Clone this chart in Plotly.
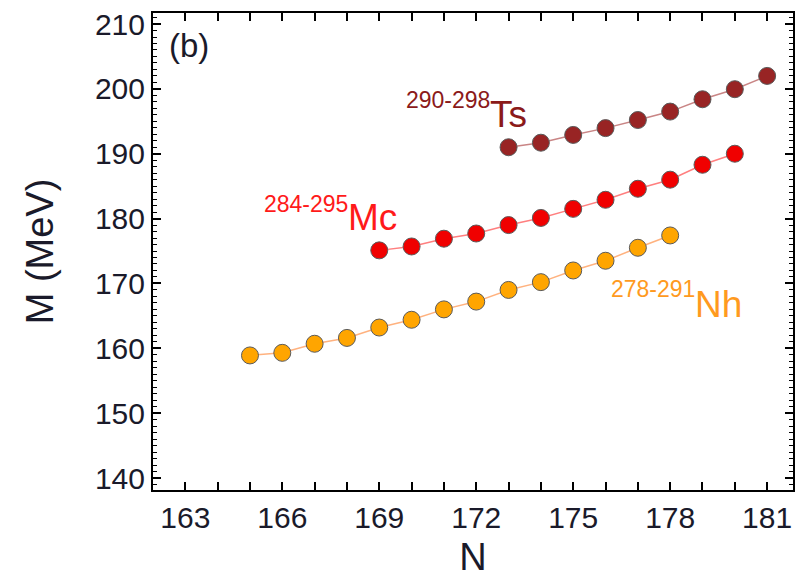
import plotly.graph_objects as go

# Neutron numbers and masses (MeV) for the three isotopic chains
n_nh = [165, 166, 167, 168, 169, 170, 171, 172, 173, 174, 175, 176, 177, 178]
m_nh = [158.9, 159.3, 160.7, 161.6, 163.2, 164.4, 166.0, 167.2, 169.0, 170.2, 172.0, 173.5, 175.5, 177.4]

n_mc = [169, 170, 171, 172, 173, 174, 175, 176, 177, 178, 179, 180]
m_mc = [175.1, 175.7, 176.9, 177.7, 179.0, 180.1, 181.5, 182.9, 184.6, 186.0, 188.3, 190.0]

n_ts = [173, 174, 175, 176, 177, 178, 179, 180, 181]
m_ts = [191.0, 191.7, 192.9, 193.95, 195.2, 196.5, 198.4, 199.95, 202.0]

x_ticks = [163, 166, 169, 172, 175, 178, 181]
y_ticks = [140, 150, 160, 170, 180, 190, 200, 210]

series = [
    (n_nh, m_nh, "#FFA500", "#FFB27F", "Nh"),
    (n_mc, m_mc, "#F00000", "#FF7F7F", "Mc"),
    (n_ts, m_ts, "#982424", "#C98585", "Ts"),
]

fig = go.Figure()
for xs, ys, mcol, lcol, name in series:
    fig.add_trace(go.Scatter(
        x=xs, y=ys, mode="lines+markers", name=name,
        line=dict(color=lcol, width=1.5),
        marker=dict(size=17, color=mcol, line=dict(color="#5a5a5a", width=1)),
        showlegend=False,
    ))

label_font = "Liberation Sans, Arial"

# Isotope labels: mass range as a superscript, element symbol beside it
labels = [
    ("290-298", "Ts", 172.43, 198.3, 196.0, "#8B1A1A"),
    ("284-295", "Mc", 168.02, 182.3, 180.15, "#FF1A1A"),
    ("278-291", "Nh", 178.76, 169.1, 166.8, "#FF9A1E"),
]
for sup, sym, xa, ysup, ysym, col in labels:
    fig.add_annotation(x=xa, y=ysup, text=sup, showarrow=False,
                       xanchor="right", yanchor="middle", xshift=2,
                       font=dict(family=label_font, size=23, color=col))
    fig.add_annotation(x=xa, y=ysym, text=sym, showarrow=False,
                       xanchor="left", yanchor="middle", xshift=-2,
                       font=dict(family=label_font, size=37, color=col))

fig.add_annotation(x=0.022, y=0.975, xref="paper", yref="paper", text="(b)",
                   showarrow=False, xanchor="left", yanchor="top",
                   font=dict(family="Liberation Sans, Arial", size=33, color="#1a1a2a"))

axis_font = dict(family="Liberation Sans, Arial", size=30, color="#1a1a2a")

fig.update_xaxes(
    range=[162.0, 181.8], tickvals=x_ticks, ticktext=[str(v) for v in x_ticks],
    ticks="inside", ticklen=8, tickwidth=1.5, tickcolor="black",
    minor=dict(dtick=1, tick0=163, ticks="inside", ticklen=8, tickwidth=1.5, tickcolor="black"),
    showline=True, linewidth=2, linecolor="black", mirror="ticks",
    showgrid=False, zeroline=False, tickfont=axis_font,
    title=dict(text="N", font=dict(family="Liberation Sans, Arial", size=38, color="#1a1a2a"), standoff=10),
)
fig.update_yaxes(
    range=[138.15, 211.7], tickvals=y_ticks, ticktext=[str(v) for v in y_ticks],
    ticks="inside", ticklen=8, tickwidth=1.5, tickcolor="black",
    minor=dict(dtick=1, tick0=140, ticks="inside", ticklen=4, tickwidth=1.2, tickcolor="black"),
    showline=True, linewidth=2, linecolor="black", mirror="ticks",
    showgrid=False, zeroline=False, tickfont=axis_font,
    title=dict(text="M (MeV)", font=dict(family="Liberation Sans, Arial", size=38, color="#1a1a2a"), standoff=30),
)

fig.update_layout(
    width=799, height=579,
    margin=dict(l=153, r=4, t=13, b=89),
    paper_bgcolor="white", plot_bgcolor="white",
)

fig.write_html("out.html")
